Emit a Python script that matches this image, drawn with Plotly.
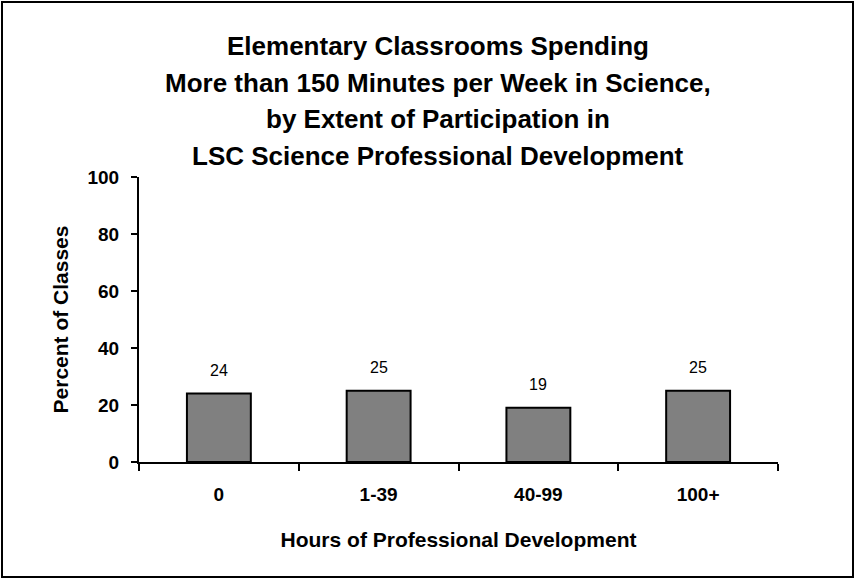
import plotly.graph_objects as go

categories = ["0", "1-39", "40-99", "100+"]
values = [24, 25, 19, 25]
y_ticks = [0, 20, 40, 60, 80, 100]
title_lines = [
    "Elementary Classrooms Spending",
    "More than 150 Minutes per Week in Science,",
    "by Extent of Participation in",
    "LSC Science Professional Development",
]
x_title = "Hours of Professional Development"
y_title = "Percent of Classes"

FONT = "Liberation Sans, Arial, sans-serif"
W, H = 855, 579
L, R, T, B = 139, 77, 177, 117
pw, ph = W - L - R, H - T - B

fig = go.Figure()
fig.add_trace(go.Bar(
    x=categories, y=values,
    marker=dict(color="#808080", line=dict(color="black", width=2)),
    width=0.4,
    hoverinfo="x+y",
))

annotations = []
for c, v in zip(categories, values):
    annotations.append(dict(
        x=c, y=v, xref="x", yref="y", text=str(v), showarrow=False,
        yanchor="bottom", yshift=13, font=dict(family=FONT, size=16, color="black"),
    ))

# Title lines
line_y = [46, 83, 119, 156]
for txt, py in zip(title_lines, line_y):
    annotations.append(dict(
        x=(438 - L) / pw, y=(H - B - py) / ph, xref="paper", yref="paper",
        text="<b>%s</b>" % txt, showarrow=False, xanchor="center", yanchor="middle",
        font=dict(family=FONT, size=26, color="black"),
    ))

fig.update_layout(
    width=W, height=H,
    margin=dict(l=L, r=R, t=T, b=B, pad=0),
    paper_bgcolor="white", plot_bgcolor="white",
    showlegend=False,
    annotations=annotations,
    shapes=[dict(
        type="rect", xref="paper", yref="paper",
        x0=(2 - L) / pw, x1=(853 - L) / pw,
        y0=(H - B - 577) / ph, y1=(H - B - 2) / ph,
        line=dict(color="black", width=2), fillcolor="rgba(0,0,0,0)", layer="below",
    )],
    xaxis=dict(
        type="category", range=[-0.5, 3.5],
        showline=True, linecolor="black", linewidth=2,
        ticks="outside", tickson="boundaries", ticklen=7, tickwidth=2, tickcolor="black",
        showgrid=False, zeroline=False,
        tickfont=dict(family=FONT, size=19, color="black", weight="bold"),
        ticklabelstandoff=14,
        title=dict(text="<b>%s</b>" % x_title, standoff=29,
                   font=dict(family=FONT, size=21, color="black")),
    ),
    yaxis=dict(
        range=[0, 100], tickvals=y_ticks,
        showline=True, linecolor="black", linewidth=2,
        ticks="outside", ticklen=6, tickwidth=2, tickcolor="black",
        showgrid=False, zeroline=False,
        tickfont=dict(family=FONT, size=19, color="black", weight="bold"),
        ticklabelstandoff=8,
        title=dict(text="<b>%s</b>" % y_title, standoff=13,
                   font=dict(family=FONT, size=21, color="black")),
    ),
)

fig.write_html(
    "out.html",
    config={"displayModeBar": False},
    post_script="document.body.style.margin='0';document.body.style.padding='0';",
)
